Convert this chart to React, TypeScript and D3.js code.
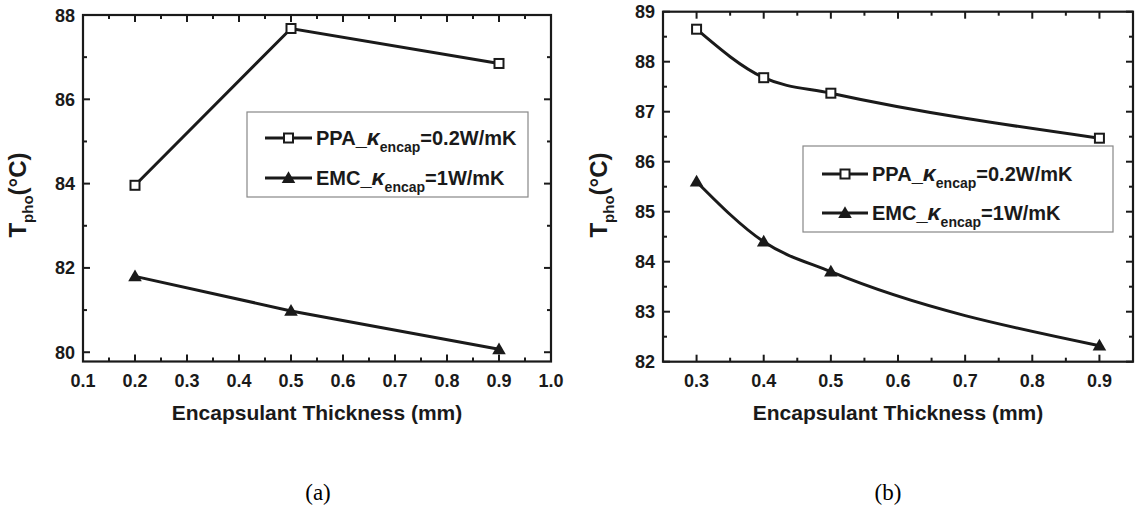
import React from "react";
import * as d3 from "d3";

// ---- data ----
const thicknessA = [0.2, 0.5, 0.9];
const ppaA = [83.96, 87.68, 86.85];
const emcA = [81.8, 80.98, 80.07];

const thicknessB = [0.3, 0.4, 0.5, 0.9];
const ppaB = [88.65, 87.68, 87.37, 86.47];
const emcB = [85.6, 84.4, 83.8, 82.32];

const xTicksA = [0.1, 0.2, 0.3, 0.4, 0.5, 0.6, 0.7, 0.8, 0.9, 1.0];
const yTicksA = [80, 82, 84, 86, 88];
const xTicksB = [0.3, 0.4, 0.5, 0.6, 0.7, 0.8, 0.9];
const yTicksB = [82, 83, 84, 85, 86, 87, 88, 89];

const legendLabels = [
  { pre: "PPA_", sub: "encap", post: "=0.2W/mK" },
  { pre: "EMC_", sub: "encap", post: "=1W/mK" },
];
const panelLabels = ["(a)", "(b)"];

const FONT = "Arial, 'Liberation Sans', sans-serif";
const INK = "#1a1a1a";

type PanelProps = {
  x: d3.ScaleLinear<number, number>;
  y: d3.ScaleLinear<number, number>;
  xTicks: number[];
  xMinor: number[];
  yTicks: number[];
  yMinor: number[];
  xs: number[];
  ppa: number[];
  emc: number[];
  smooth: boolean;
  legend: { x0: number; x1: number; y0: number; y1: number; rows: number[]; lx0: number; lx1: number };
  yTitleX: number;
  yTitleY: number;
  label: string;
  labelX: number;
};

function Square({ cx, cy }: { cx: number; cy: number }) {
  return <rect x={cx - 4.5} y={cy - 4.5} width={9} height={9} fill="white" stroke={INK} strokeWidth={2} />;
}
function Tri({ cx, cy }: { cx: number; cy: number }) {
  const p = d3.symbol().type(d3.symbolTriangle).size(80)() as string;
  return <path d={p} transform={`translate(${cx},${cy + 1})`} fill={INK} />;
}

function Panel(p: PanelProps) {
  const [x0, x1] = p.x.range();
  const [y0, y1] = p.y.range(); // y0 bottom, y1 top
  const maj = 7, mnr = 4;
  const line = d3
    .line<[number, number]>()
    .x((d) => p.x(d[0]))
    .y((d) => p.y(d[1]))
    .curve(p.smooth ? d3.curveMonotoneX : d3.curveLinear);
  const ppaPts = p.xs.map((v, i) => [v, p.ppa[i]] as [number, number]);
  const emcPts = p.xs.map((v, i) => [v, p.emc[i]] as [number, number]);
  const lg = p.legend;
  return (
    <g>
      {p.xTicks.map((t) => (
        <g key={"xt" + t}>
          <line x1={p.x(t)} x2={p.x(t)} y1={y0} y2={y0 - maj} stroke={INK} strokeWidth={2} />
          <line x1={p.x(t)} x2={p.x(t)} y1={y1} y2={y1 + maj} stroke={INK} strokeWidth={2} />
          <text x={p.x(t)} y={387} textAnchor="middle" fontFamily={FONT} fontWeight="bold" fontSize={18} fill={INK}>
            {d3.format(".1f")(t)}
          </text>
        </g>
      ))}
      {p.xMinor.map((t) => (
        <g key={"xm" + t}>
          <line x1={p.x(t)} x2={p.x(t)} y1={y0} y2={y0 - mnr} stroke={INK} strokeWidth={2} />
          <line x1={p.x(t)} x2={p.x(t)} y1={y1} y2={y1 + mnr} stroke={INK} strokeWidth={2} />
        </g>
      ))}
      {p.yTicks.map((t) => (
        <g key={"yt" + t}>
          <line x1={x0} x2={x0 + maj} y1={p.y(t)} y2={p.y(t)} stroke={INK} strokeWidth={2} />
          <line x1={x1} x2={x1 - maj} y1={p.y(t)} y2={p.y(t)} stroke={INK} strokeWidth={2} />
          <text x={x0 - 8} y={p.y(t) + 6.5} textAnchor="end" fontFamily={FONT} fontWeight="bold" fontSize={18} fill={INK}>
            {t}
          </text>
        </g>
      ))}
      {p.yMinor.map((t) => (
        <g key={"ym" + t}>
          <line x1={x0} x2={x0 + mnr} y1={p.y(t)} y2={p.y(t)} stroke={INK} strokeWidth={2} />
          <line x1={x1} x2={x1 - mnr} y1={p.y(t)} y2={p.y(t)} stroke={INK} strokeWidth={2} />
        </g>
      ))}
      <rect x={x0} y={y1} width={x1 - x0} height={y0 - y1} fill="none" stroke={INK} strokeWidth={2.2} />

      <path d={line(ppaPts) as string} fill="none" stroke={INK} strokeWidth={3} />
      <path d={line(emcPts) as string} fill="none" stroke={INK} strokeWidth={3} />
      {ppaPts.map((d, i) => (
        <Square key={"s" + i} cx={p.x(d[0])} cy={p.y(d[1])} />
      ))}
      {emcPts.map((d, i) => (
        <Tri key={"t" + i} cx={p.x(d[0])} cy={p.y(d[1])} />
      ))}

      <rect x={lg.x0} y={lg.y0} width={lg.x1 - lg.x0} height={lg.y1 - lg.y0} fill="white" stroke="#888" strokeWidth={1.2} />
      {legendLabels.map((L, i) => {
        const cy = lg.rows[i];
        const mx = (lg.lx0 + lg.lx1) / 2;
        return (
          <g key={"lg" + i}>
            <line x1={lg.lx0} x2={lg.lx1} y1={cy} y2={cy} stroke={INK} strokeWidth={3} />
            {i === 0 ? <Square cx={mx} cy={cy} /> : <Tri cx={mx} cy={cy} />}
            <text x={lg.lx1 + 4} y={cy + 7} fontFamily={FONT} fontWeight="bold" fontSize={20} fill={INK}>
              {L.pre}
              <tspan fontStyle="italic" fontSize={23}>κ</tspan>
              <tspan fontSize={14} dy={7}>{L.sub}</tspan>
              <tspan dy={-7}>{L.post}</tspan>
            </text>
          </g>
        );
      })}

      <text x={(x0 + x1) / 2} y={420} textAnchor="middle" fontFamily={FONT} fontWeight="bold" fontSize={21} fill={INK}>
        Encapsulant Thickness (mm)
      </text>
      <text
        transform={`translate(${p.yTitleX},${p.yTitleY}) rotate(-90)`}
        textAnchor="middle"
        fontFamily={FONT}
        fontWeight="bold"
        fontSize={24}
        fill={INK}
      >
        T<tspan fontSize={15} dy={7}>pho</tspan>
        <tspan dy={-7}>(°C)</tspan>
      </text>

      <text x={p.labelX} y={500} textAnchor="middle" fontFamily="'Liberation Serif', 'Times New Roman', serif" fontSize={23} fill="#000">
        {p.label}
      </text>
    </g>
  );
}

export default function App() {
  const xA = d3.scaleLinear().domain([0.1, 1.0]).range([83, 551]);
  const yA = d3.scaleLinear().domain([79.78, 88]).range([361.5, 15]);
  const xB = d3.scaleLinear().domain([0.25, 0.95]).range([663, 1133]);
  const yB = d3.scaleLinear().domain([82, 89]).range([361.7, 11.7]);

  const xMinorA = d3.range(0.15, 1.0, 0.1);
  const yMinorA = [81, 83, 85, 87];
  const xMinorB = d3.range(0.25, 0.96, 0.1);
  const yMinorB = d3.range(82.5, 89, 1);

  return (
    <svg width={1139} height={520} style={{ position: "absolute", left: 0, top: 0, background: "white" }}>
      <rect width={1139} height={520} fill="white" />
      <Panel
        x={xA}
        y={yA}
        xTicks={xTicksA}
        xMinor={xMinorA}
        yTicks={yTicksA}
        yMinor={yMinorA}
        xs={thicknessA}
        ppa={ppaA}
        emc={emcA}
        smooth={false}
        legend={{ x0: 247, x1: 528, y0: 112, y1: 197, rows: [138, 178], lx0: 265, lx1: 312 }}
        yTitleX={26}
        yTitleY={195}
        label={panelLabels[0]}
        labelX={318}
      />
      <Panel
        x={xB}
        y={yB}
        xTicks={xTicksB}
        xMinor={xMinorB}
        yTicks={yTicksB}
        yMinor={yMinorB}
        xs={thicknessB}
        ppa={ppaB}
        emc={emcB}
        smooth={true}
        legend={{ x0: 803, x1: 1113, y0: 146, y1: 232, rows: [174, 213], lx0: 822, lx1: 868 }}
        yTitleX={607}
        yTitleY={195}
        label={panelLabels[1]}
        labelX={888}
      />
    </svg>
  );
}
